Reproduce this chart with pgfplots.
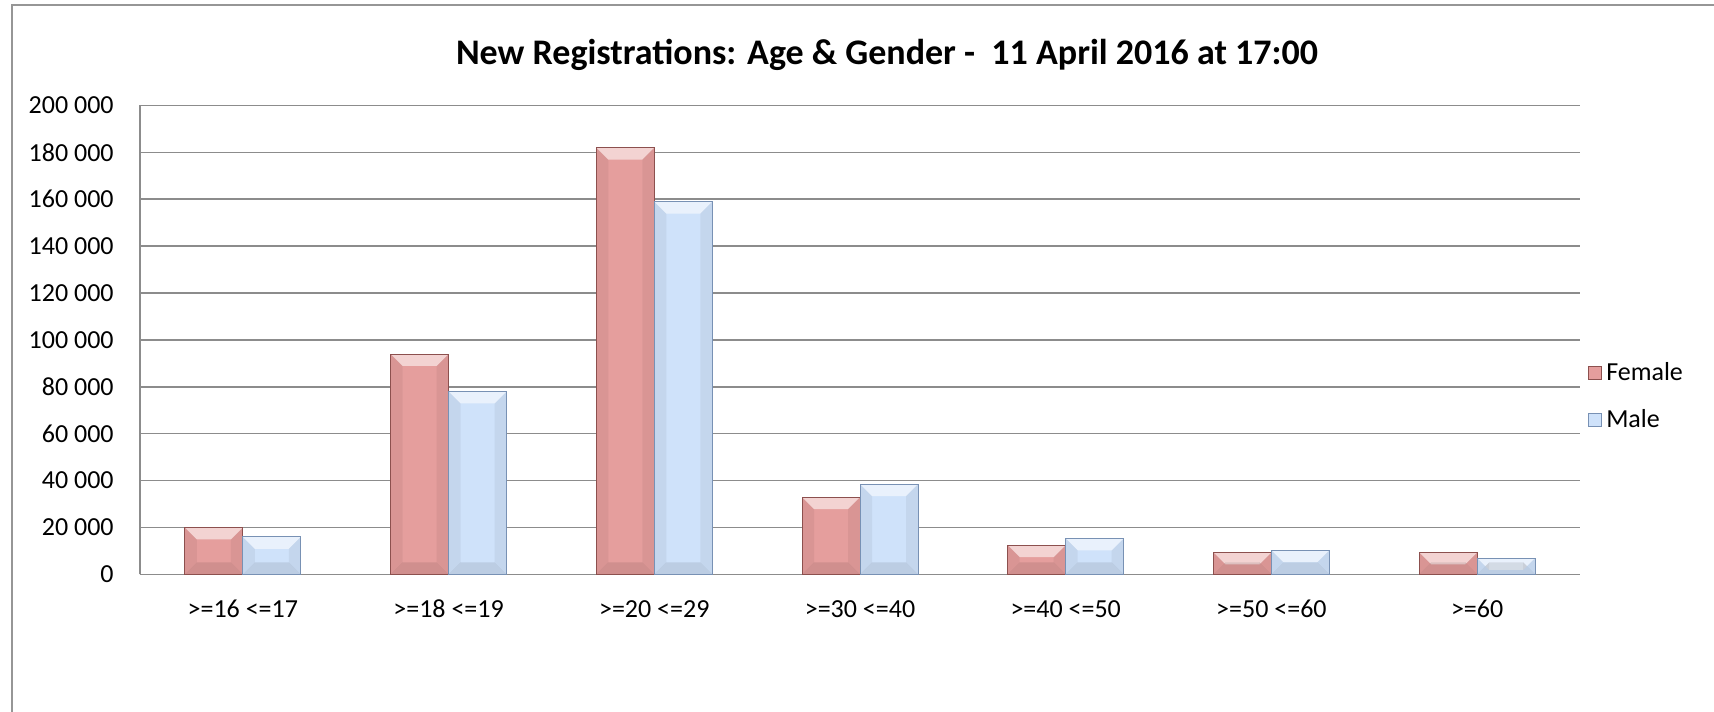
\documentclass[border=0pt]{standalone}
\usepackage{pgfplots}
\pgfplotsset{compat=1.18}
\usepackage{fontspec}
\setmainfont{Carlito}
\definecolor{fem}{RGB}{229,158,157}
\definecolor{femedge}{RGB}{140,80,78}
\definecolor{mal}{RGB}{207,226,250}
\definecolor{maledge}{RGB}{120,145,180}
\definecolor{gridgray}{RGB}{140,140,140}
\definecolor{framegray}{RGB}{150,150,150}
\tikzset{
  bvl/.style={path picture={}, draw=none},
  bevel/.style={path picture={
    \path[bvl] (path picture bounding box.north west) coordinate (bnw)
          (path picture bounding box.north east) coordinate (bne)
          (path picture bounding box.south west) coordinate (bsw)
          (path picture bounding box.south east) coordinate (bse);
    \fill[bvl,white,opacity=0.55] (bnw) -- (bne) -- ([xshift=-6pt,yshift=-6pt]bne) -- ([xshift=6pt,yshift=-6pt]bnw) -- cycle;
    \fill[bvl,black,opacity=0.05] (bnw) -- ([xshift=6pt,yshift=-6pt]bnw) -- ([xshift=6pt,yshift=6pt]bsw) -- (bsw) -- cycle;
    \fill[bvl,black,opacity=0.05] (bne) -- ([xshift=-6pt,yshift=-6pt]bne) -- ([xshift=-6pt,yshift=6pt]bse) -- (bse) -- cycle;
    \fill[bvl,black,opacity=0.09] (bsw) -- ([xshift=6pt,yshift=6pt]bsw) -- ([xshift=-6pt,yshift=6pt]bse) -- (bse) -- cycle;
  }}
}
\pgfplotsset{
  femstyle/.style={ybar, bar width=29pt, bar shift=-14.5pt, fill=fem, draw=femedge, line width=0.4pt, bevel},
  malstyle/.style={ybar, bar width=29pt, bar shift=14.5pt, fill=mal, draw=maledge, line width=0.4pt, bevel},
}
\newcommand{\fbar}[2]{\addplot[femstyle, forget plot] coordinates {(#1,#2)};}
\newcommand{\mbar}[2]{\addplot[malstyle, forget plot] coordinates {(#1,#2)};}
\begin{document}
\begin{tikzpicture}
\useasboundingbox (0,0) rectangle (857pt,356pt);
\draw[framegray, line width=1pt] (6pt,0) -- (6pt,353.5pt) -- (857pt,353.5pt);
\node[font=\bfseries\fontsize{18}{21}\selectfont] at (443.5pt,328.3pt) {New Registrations: Age \& Gender -\ \ 11 April 2016 at 17:00};
\begin{axis}[
  at={(70pt,68.8pt)}, anchor=south west,
  scale only axis, width=720pt, height=234.5pt,
  xmin=-0.5, xmax=6.5, ymin=0, ymax=200000,
  xtick={0,1,...,6},
  xticklabels={{>=16 <=17},{>=18 <=19},{>=20 <=29},{>=30 <=40},{>=40 <=50},{>=50 <=60},{>=60}},
  ytick={0,20000,...,200000},
  scaled y ticks=false,
  /pgf/number format/assume math mode=true,
  yticklabel={\pgfmathprintnumber[fixed,precision=0,1000 sep={\ }]{\tick}},
  major tick length=0pt,
  axis x line*=bottom, axis y line*=left,
  axis line style={gridgray, line width=0.75pt, -},
  ymajorgrids, major grid style={gridgray, line width=0.75pt},
  tick label style={font=\fontsize{13}{15}\selectfont, text=black},
  xticklabel style={anchor=center, yshift=-17.3pt},
  yticklabel style={anchor=east, inner sep=0pt, xshift=-13pt},
  legend style={at={(1.0056,0.38)}, anchor=west, draw=none, fill=none,
    font=\fontsize{13}{15}\selectfont, row sep=9pt, inner sep=0pt},
  legend cell align=left,
  legend image code/.code={\draw[#1, line width=0.4pt] (0pt,-3.25pt) rectangle (6.5pt,3.25pt);},
  clip=false,
]
% Female
\fbar{0}{20000}\fbar{1}{94000}\fbar{2}{182000}\fbar{3}{33000}\fbar{4}{12500}\fbar{5}{9400}\fbar{6}{9400}
% Male
\mbar{0}{16000}\mbar{1}{78000}\mbar{2}{159000}\mbar{3}{38500}\mbar{4}{15400}\mbar{5}{10300}\mbar{6}{7000}
\addlegendimage{fill=fem, draw=femedge}
\addlegendentry{Female}
\addlegendimage{fill=mal, draw=maledge}
\addlegendentry{Male}
\end{axis}
\end{tikzpicture}
\end{document}
